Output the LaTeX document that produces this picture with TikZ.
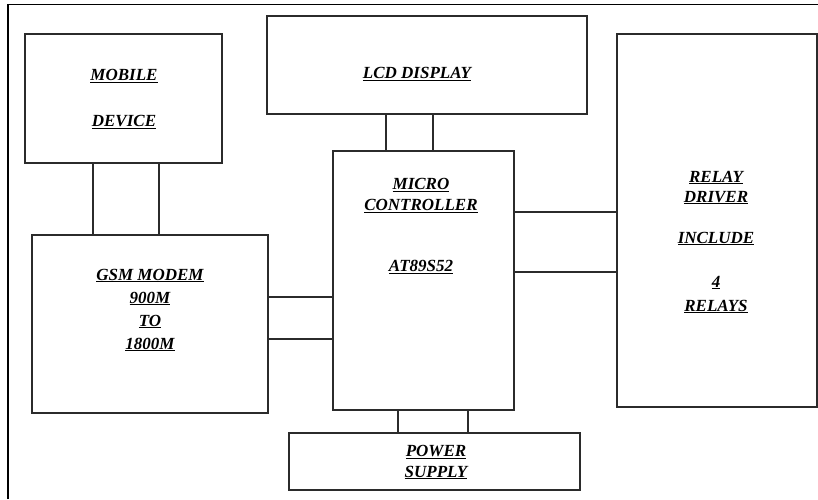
\documentclass[tikz,border=0pt]{standalone}
\usepackage{fontspec}
\setmainfont{Liberation Serif}
\usetikzlibrary{positioning}
\definecolor{edge}{HTML}{2B2B2B}
\tikzset{
  frame/.style={draw=black, line width=1.4pt},
  blockbox/.style={draw=edge, line width=1.5pt, inner sep=0pt, fill=white},
  txt/.style={font=\fontsize{17}{21}\selectfont\bfseries\itshape, text=black,
              align=center, inner sep=0pt},
  link/.style={draw=edge, line width=1.3pt},
}
\newcommand{\ul}[1]{\underline{#1}}

\begin{document}
\begin{tikzpicture}[x=1pt, y=-1pt]
\useasboundingbox (0,0) rectangle (818,499);
% outer frame, only its top and left edge are in view
\draw[frame] (8,499) -- (8,4.5) -- (818,4.5);
% the blocks
\node[blockbox, minimum width=197, minimum height=129] (mobile) at (123.5,98.5) {};
\node[blockbox, minimum width=320, minimum height=98] (lcd) at (427,65) {};
\node[blockbox, minimum width=181, minimum height=259] (mc) at (423.5,280.5) {};
\node[blockbox, minimum width=236, minimum height=178] (gsm) at (150,324) {};
\node[blockbox, minimum width=200, minimum height=373] (relay) at (717,220.5) {};
\node[blockbox, minimum width=291, minimum height=57] (power) at (434.5,461.5) {};
% texts
\node[txt] (mobilet) at (124,99) {\ul{MOBILE}\\[25pt]\ul{DEVICE}};
\node[txt] (lcdt) at (417,74) {\ul{LCD DISPLAY}};
\node[txt] (mct) at (421,226) {\ul{MICRO}\\\ul{CONTROLLER}\\[40pt]\ul{AT89S52}};
\node[txt, font=\fontsize{17}{23}\selectfont\bfseries\itshape] (gsmt) at (150,310)
  {\ul{GSM MODEM}\\\ul{900M}\\\ul{TO}\\\ul{1800M}};
\node[txt, font=\fontsize{17}{20}\selectfont\bfseries\itshape] (relayt) at (716,242)
  {\ul{RELAY}\\\ul{DRIVER}\\[21pt]\ul{INCLUDE}\\[24pt]\ul{4}\\[4pt]\ul{RELAYS}};
\node[txt] (powert) at (436,462) {\ul{POWER}\\\ul{SUPPLY}};
% the two wire links between the blocks
\foreach \x in {93,159} {
  \draw[link] (mobile.south -| \x,0) -- (gsm.north -| \x,0);
}
\foreach \x in {386,433} {
  \draw[link] (lcd.south -| \x,0) -- (mc.north -| \x,0);
}
\foreach \y in {297,339} {
  \draw[link] (gsm.east |- 0,\y) -- (mc.west |- 0,\y);
}
\foreach \y in {212,272} {
  \draw[link] (mc.east |- 0,\y) -- (relay.west |- 0,\y);
}
\foreach \x in {398,468} {
  \draw[link] (mc.south -| \x,0) -- (power.north -| \x,0);
}
\end{tikzpicture}
\end{document}
